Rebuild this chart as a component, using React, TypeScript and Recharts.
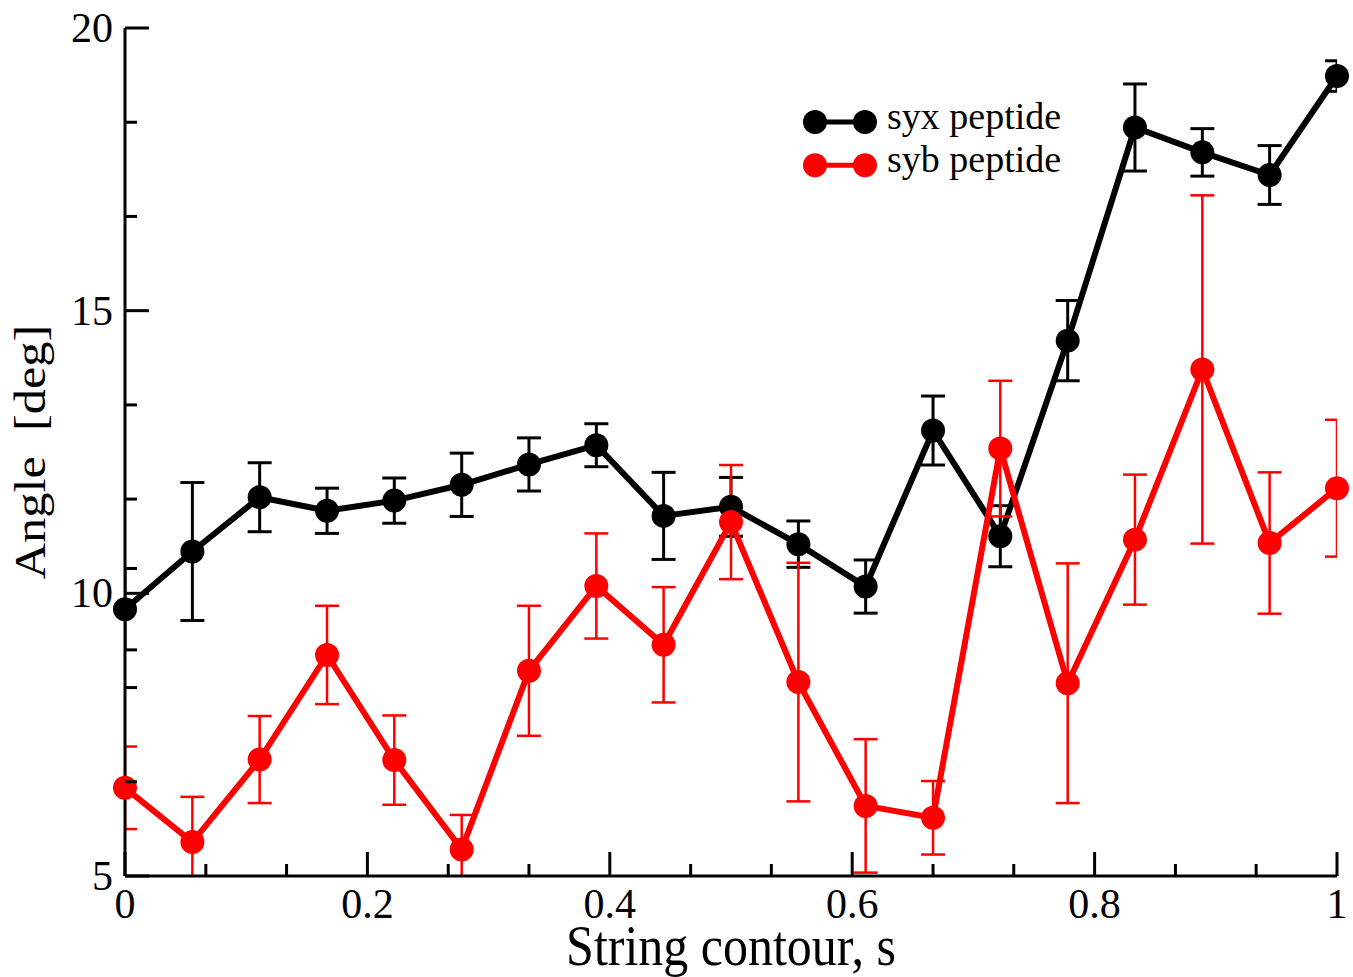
import { LineChart, Line, XAxis, YAxis, ErrorBar, Legend } from 'recharts'

const FONT = '"Liberation Serif", "Times New Roman", serif'

// string contour positions (19 images)
const contour = [0, 0.0556, 0.1111, 0.1667, 0.2222, 0.2778, 0.3333, 0.3889, 0.4444, 0.5, 0.5556, 0.6111, 0.6667, 0.7222, 0.7778, 0.8333, 0.8889, 0.9444, 1]

const syx = [9.72, 10.74, 11.7, 11.46, 11.64, 11.92, 12.28, 12.62, 11.37, 11.53, 10.87, 10.12, 12.88, 11.01, 14.47, 18.24, 17.8, 17.4, 19.15]
const syxErr = [0.72, 1.22, 0.61, 0.4, 0.4, 0.56, 0.47, 0.38, 0.77, 0.52, 0.41, 0.47, 0.61, 0.54, 0.71, 0.77, 0.42, 0.52, 0.27]

const syb = [6.56, 5.6, 7.06, 8.91, 7.05, 5.47, 8.63, 10.13, 9.09, 11.26, 8.43, 6.24, 6.03, 12.56, 8.41, 10.95, 13.96, 10.89, 11.86]
const sybErr = [0.73, 0.8, 0.77, 0.87, 0.79, 0.61, 1.15, 0.93, 1.02, 1.01, 2.11, 1.18, 0.65, 1.2, 2.12, 1.15, 3.08, 1.25, 1.21]

const xMajor = [0, 0.2, 0.4, 0.6, 0.8, 1]
const xMinor = [0.0667, 0.1333, 0.2667, 0.3333, 0.4667, 0.5333, 0.6667, 0.7333, 0.8667, 0.9333]
const yMajor = [5, 10, 15, 20]
const yMinor = [6.667, 8.333, 11.667, 13.333, 16.667, 18.333]

const series = [
  { key: 'syx', err: 'syxErr', name: 'syx peptide', color: '#000000', errStroke: 3 },
  { key: 'syb', err: 'sybErr', name: 'syb peptide', color: '#ff0000', errStroke: 2.5 },
]

const rows = contour.map((s, i) => ({ s, syx: syx[i], syxErr: syxErr[i], syb: syb[i], sybErr: sybErr[i] }))

const W = 1353
const H = 977
const LEFT = 125
const TOP = 28
const RIGHT = 16
const BOTTOM = 101

const MAJOR = 24
const MINOR = 12
const AXIS = { stroke: '#000', strokeWidth: 3 }

const isMajor = (list: number[], v: number) => list.some((m) => Math.abs(m - v) < 1e-6)

const bottomTick = ({ x, y, payload }: any) => {
  const major = isMajor(xMajor, payload.value)
  return (
    <g>
      <line x1={x} x2={x} y1={y} y2={y - (major ? MAJOR : MINOR)} stroke="#000" strokeWidth={3} />
      {major && (
        <text x={x} y={y + 42} textAnchor="middle" fontSize={42} fontFamily={FONT} fill="#000">
          {String(payload.value)}
        </text>
      )}
    </g>
  )
}

const topTick = ({ x, y, payload }: any) => {
  const major = isMajor(xMajor, payload.value)
  return <line x1={x} x2={x} y1={y} y2={y + (major ? MAJOR : MINOR)} stroke="#000" strokeWidth={3} />
}

const leftTick = ({ x, y, payload }: any) => {
  const major = isMajor(yMajor, payload.value)
  return (
    <g>
      <line x1={x} x2={x + (major ? MAJOR : MINOR)} y1={y} y2={y} stroke="#000" strokeWidth={3} />
      {major && (
        <text x={x - 12} y={y + 14} textAnchor="end" fontSize={42} fontFamily={FONT} fill="#000">
          {String(payload.value)}
        </text>
      )}
    </g>
  )
}

const rightTick = ({ x, y, payload }: any) => {
  const major = isMajor(yMajor, payload.value)
  return <line x1={x} x2={x - (major ? MAJOR : MINOR)} y1={y} y2={y} stroke="#000" strokeWidth={3} />
}

const renderLegend = () => (
  <svg width={320} height={100} style={{ display: 'block', overflow: 'visible' }}>
    {series.map((sr, i) => {
      const cy = 22 + i * 43.3
      return (
        <g key={sr.key}>
          <line x1={15} x2={65} y1={cy} y2={cy} stroke={sr.color} strokeWidth={5} />
          <circle cx={15} cy={cy} r={12} fill={sr.color} />
          <circle cx={65} cy={cy} r={12} fill={sr.color} />
          <text x={87} y={cy + 7} fontSize={38} fontFamily={FONT} fill="#000">
            {sr.name}
          </text>
        </g>
      )
    })}
  </svg>
)

export default function App() {
  return (
    <div style={{ position: 'absolute', left: 0, top: 0, background: '#fff' }}>
      {/* error bars are clipped to the plot frame, the markers are not */}
      <svg width={0} height={0} style={{ position: 'absolute' }}>
        <defs>
          <clipPath id="plot-clip">
            <rect x={LEFT} y={TOP} width={W - LEFT - RIGHT} height={H - TOP - BOTTOM} />
          </clipPath>
        </defs>
      </svg>
      <style>{'.recharts-errorBars { clip-path: url(#plot-clip); }'}</style>
      <LineChart width={W} height={H} data={rows} margin={{ top: TOP, right: RIGHT, bottom: 0, left: 0 }}>
        <XAxis
          dataKey="s"
          type="number"
          domain={[0, 1]}
          ticks={[...xMajor, ...xMinor]}
          interval={0}
          tickSize={0}
          tickMargin={0}
          tickLine={false}
          tick={bottomTick}
          axisLine={AXIS}
          height={BOTTOM}
          allowDataOverflow
          label={{
            content: ({ viewBox }: any) => (
              <text
                transform={`translate(${viewBox.x + viewBox.width / 2} ${viewBox.y + 89}) scale(1 1.13)`}
                textAnchor="middle"
                fontSize={50}
                fontFamily={FONT}
                fill="#000"
              >
                String contour, s
              </text>
            ),
          }}
        />
        <XAxis
          xAxisId="top"
          orientation="top"
          dataKey="s"
          type="number"
          domain={[0, 1]}
          ticks={[...xMajor, ...xMinor]}
          interval={0}
          tickSize={0}
          tickMargin={0}
          tickLine={false}
          tick={topTick}
          axisLine={AXIS}
          height={0}
          allowDataOverflow
        />
        <YAxis
          type="number"
          domain={[5, 20]}
          ticks={[...yMajor, ...yMinor]}
          interval={0}
          tickSize={0}
          tickMargin={0}
          tickLine={false}
          tick={leftTick}
          axisLine={AXIS}
          width={LEFT}
          allowDataOverflow
          label={{
            content: ({ viewBox }: any) => (
              <text
                transform={`translate(${viewBox.x + 45} ${viewBox.y + viewBox.height / 2}) rotate(-90) scale(1.12 1)`}
                textAnchor="middle"
                fontSize={45}
                fontFamily={FONT}
                fill="#000"
                style={{ whiteSpace: 'pre' }}
              >
                {'Angle  [deg]'}
              </text>
            ),
          }}
        />
        <YAxis
          yAxisId="right"
          orientation="right"
          type="number"
          domain={[5, 20]}
          ticks={[...yMajor, ...yMinor]}
          interval={0}
          tickSize={0}
          tickMargin={0}
          tickLine={false}
          tick={rightTick}
          axisLine={AXIS}
          width={0}
          allowDataOverflow
        />
        <Legend
          layout="vertical"
          align="center"
          verticalAlign="middle"
          wrapperStyle={{ top: 100, left: 800, width: 320, height: 100 }}
          content={renderLegend}
        />
        {series.map((sr) => (
          <Line
            key={sr.key}
            dataKey={sr.key}
            name={sr.name}
            type="linear"
            stroke={sr.color}
            strokeWidth={6}
            dot={{ r: 12, fill: sr.color, stroke: sr.color, strokeWidth: 0, clipDot: false }}
            activeDot={false}
            isAnimationActive={false}
          >
            <ErrorBar dataKey={sr.err} direction="y" width={12} stroke={sr.color} strokeWidth={sr.errStroke} isAnimationActive={false} />
          </Line>
        ))}
      </LineChart>
    </div>
  )
}
